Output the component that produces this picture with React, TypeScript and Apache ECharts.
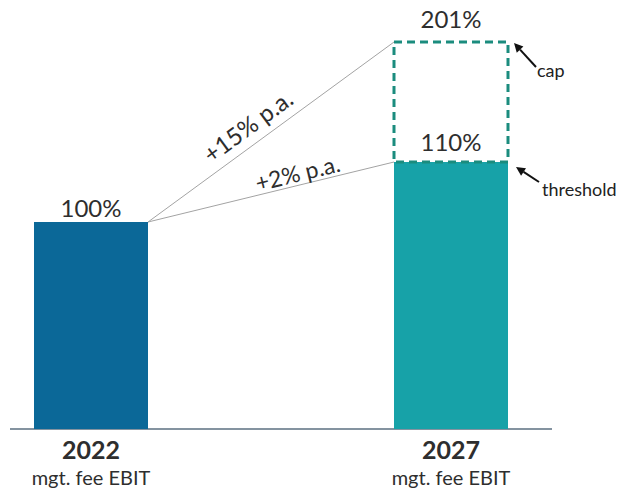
import React, { useEffect, useRef } from "react";
import * as echarts from "echarts";

// ---- data -------------------------------------------------------------
const categories = ["2022", "2027"];
const subtitle = "mgt. fee EBIT";
const barValues = [100, 110]; // mgt. fee EBIT, indexed to 2022 = 100%
const capRange = [110, 201]; // 2027: threshold → cap
const growthTargets = [201, 110];
const growthLabels = ["+15% p.a.", "+2% p.a."];
const noteValues = [201, 110];
const noteLabels = ["cap", "threshold"];

// ---- layout & style ---------------------------------------------------
const W = 621;
const H = 490;
const GRID = { left: 91, right: 170, top: 42, bottom: 61 };
const BAR_W = 114;
const BAR_COLORS = ["#0b6898", "#17a2a8"];
const CAP_COLOR = "#1b8c7e";
const TEXT = "#2e2e2e";
const FONT = "Lato, 'Noto Sans', sans-serif";
// position of each growth label along its line, its lift off the line, its size
const GROWTH_LABEL_POS = [
  { t: 0.45, lift: 7, size: 24 },
  { t: 0.62, lift: 1, size: 23 },
];
// arrow tip offset from the bar corner, tail vector, and text offset from tip
const NOTE_LAYOUT = [
  { tip: [6, 1], tail: [22, 24], text: [23, 27] },
  { tip: [8, 5], tail: [23, 15], text: [26, 22] },
];

export default function App() {
  const ref = useRef<HTMLDivElement>(null);

  useEffect(() => {
    if (!ref.current) return;
    const chart = echarts.init(ref.current, undefined, { renderer: "svg" });

    const option: any = {
      animation: false,
      backgroundColor: "#ffffff",
      grid: { ...GRID, containLabel: false },
      xAxis: {
        type: "category",
        data: categories,
        boundaryGap: false,
        axisLine: { show: false },
        axisTick: { show: false },
        splitLine: { show: false },
        axisLabel: {
          margin: 5,
          formatter: (v: string) => `{y|${v}}\n{s|${subtitle}}`,
          rich: {
            y: { fontSize: 25, fontWeight: "bold", color: TEXT, fontFamily: FONT, lineHeight: 30 },
            s: { fontSize: 20, color: TEXT, fontFamily: FONT, lineHeight: 26 },
          },
        },
      },
      yAxis: {
        type: "value",
        min: 0,
        max: 201,
        axisLine: { show: false },
        axisTick: { show: false },
        axisLabel: { show: false },
        splitLine: { show: false },
        breaks: [
          { start: 10, end: 90, gap: 14.5 },
          { start: 115, end: 196, gap: 10 },
        ],
        breakArea: { show: false },
      },
      graphic: [
        {
          type: "line",
          z: 0,
          shape: { x1: 10, y1: H - GRID.bottom, x2: 552, y2: H - GRID.bottom },
          style: { stroke: "#5b6f80", lineWidth: 1.5 },
        },
      ],
      series: [
        {
          type: "bar",
          barWidth: BAR_W,
          clip: false,
          z: 2,
          data: barValues.map((v, i) => ({
            value: v,
            itemStyle: { color: BAR_COLORS[i] },
            label: { distance: i === 0 ? 3 : 9 },
          })),
          label: {
            show: true,
            position: "top",
            formatter: (p: any) => `${p.value}%`,
            fontSize: 24,
            color: TEXT,
            fontFamily: FONT,
          },
        },
        {
          // dashed cap box above the 2027 bar
          type: "custom",
          z: 3,
          data: [[1, capRange[0], capRange[1]]],
          renderItem: (_params: any, api: any) => {
            const idx = api.value(0);
            const lo = api.coord([idx, api.value(1)]);
            const hi = api.coord([idx, api.value(2)]);
            return {
              type: "group",
              children: [
                {
                  type: "rect",
                  shape: { x: hi[0] - BAR_W / 2, y: hi[1], width: BAR_W, height: lo[1] - hi[1] },
                  style: { fill: "none", stroke: CAP_COLOR, lineWidth: 3, lineDash: [8, 5] },
                },
                {
                  type: "text",
                  x: hi[0],
                  y: hi[1] - 12,
                  style: {
                    text: `${api.value(2)}%`,
                    align: "center",
                    verticalAlign: "bottom",
                    fontSize: 24,
                    fontFamily: FONT,
                    fill: TEXT,
                  },
                },
              ],
            };
          },
        },
        {
          // growth paths from the 2022 bar to the 2027 levels
          type: "custom",
          z: 1,
          data: growthTargets.map((t) => [0, barValues[0], 1, t]),
          renderItem: (params: any, api: any) => {
            const a = api.coord([api.value(0), api.value(1)]);
            const b = api.coord([api.value(2), api.value(3)]);
            const x0 = a[0] + BAR_W / 2;
            const y0 = a[1];
            const x1 = b[0] - BAR_W / 2;
            const y1 = b[1];
            const ang = Math.atan2(y0 - y1, x1 - x0);
            const pos = GROWTH_LABEL_POS[params.dataIndex];
            const px = x0 + pos.t * (x1 - x0) - Math.sin(ang) * pos.lift;
            const py = y0 + pos.t * (y1 - y0) - Math.cos(ang) * pos.lift;
            return {
              type: "group",
              children: [
                {
                  type: "line",
                  shape: { x1: x0, y1: y0, x2: x1, y2: y1 },
                  style: { stroke: "#a3a3a3", lineWidth: 1 },
                },
                {
                  type: "text",
                  x: px,
                  y: py,
                  rotation: ang,
                  style: {
                    text: growthLabels[params.dataIndex],
                    align: "center",
                    verticalAlign: "bottom",
                    fontSize: pos.size,
                    fontFamily: FONT,
                    fill: TEXT,
                  },
                },
              ],
            };
          },
        },
        {
          // "cap" / "threshold" call-outs at the 2027 corners
          type: "custom",
          z: 4,
          data: noteValues.map((v) => [1, v]),
          renderItem: (params: any, api: any) => {
            const c = api.coord([api.value(0), api.value(1)]);
            const L = NOTE_LAYOUT[params.dataIndex];
            const tipX = c[0] + BAR_W / 2 + L.tip[0];
            const tipY = c[1] + L.tip[1];
            const tailX = tipX + L.tail[0];
            const tailY = tipY + L.tail[1];
            const len = Math.hypot(L.tail[0], L.tail[1]);
            const ux = -L.tail[0] / len;
            const uy = -L.tail[1] / len;
            const head = 9;
            const half = 4.5;
            const bx = tipX - ux * head;
            const by = tipY - uy * head;
            return {
              type: "group",
              children: [
                {
                  type: "line",
                  shape: { x1: tailX, y1: tailY, x2: bx, y2: by },
                  style: { stroke: "#111111", lineWidth: 2 },
                },
                {
                  type: "polygon",
                  shape: {
                    points: [
                      [tipX, tipY],
                      [bx - uy * half, by + ux * half],
                      [bx + uy * half, by - ux * half],
                    ],
                  },
                  style: { fill: "#111111" },
                },
                {
                  type: "text",
                  x: tipX + L.text[0],
                  y: tipY + L.text[1],
                  style: {
                    text: noteLabels[params.dataIndex],
                    align: "left",
                    verticalAlign: "middle",
                    fontSize: 18,
                    fontFamily: FONT,
                    fill: "#222222",
                  },
                },
              ],
            };
          },
        },
      ],
    };

    chart.setOption(option);
    return () => chart.dispose();
  }, []);

  return (
    <div
      ref={ref}
      style={{ position: "fixed", left: 0, top: 0, width: W, height: H, background: "#fff" }}
    />
  );
}
